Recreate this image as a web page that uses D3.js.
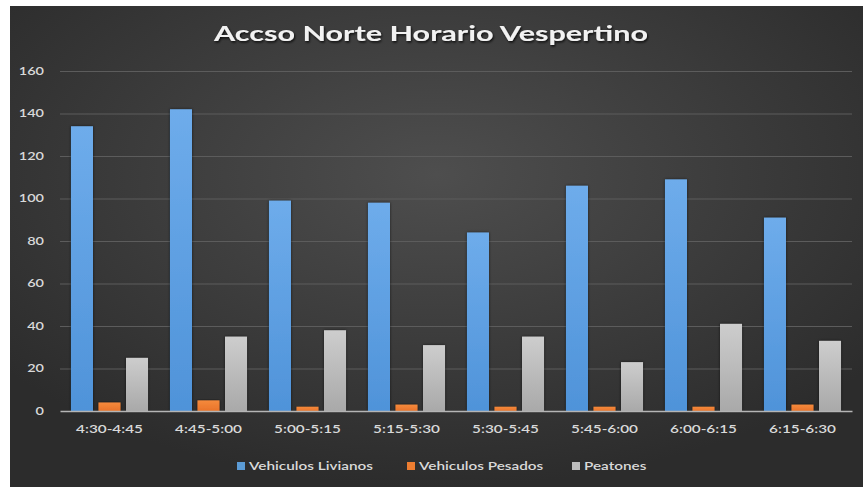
<!DOCTYPE html>
<html>
<head>
<meta charset="utf-8">
<script src="https://cdn.jsdelivr.net/npm/d3@7"></script>
<style>
  html, body { margin: 0; padding: 0; background: #ffffff; }
  svg { display: block; }
  text { font-family: Lato, "Open Sans", sans-serif; }
</style>
</head>
<body>
<div id="chart"></div>
<script>
const title = "Accso Norte Horario Vespertino";
const categories = ["4:30-4:45", "4:45-5:00", "5:00-5:15", "5:15-5:30", "5:30-5:45", "5:45-6:00", "6:00-6:15", "6:15-6:30"];
const seriesNames = ["Vehiculos Livianos", "Vehiculos Pesados", "Peatones"];
const livianos = [134, 142, 99, 98, 84, 106, 109, 91];
const pesados = [4, 5, 2, 3, 2, 2, 2, 3];
const peatones = [25, 35, 38, 31, 35, 23, 41, 33];
const yTicks = [0, 20, 40, 60, 80, 100, 120, 140, 160];
const seriesColors = ["#5b9bd5", "#ed7d31", "#bdbdbd"];

const seriesValues = [livianos, pesados, peatones];
const data = categories.map((c, i) => ({
  cat: c,
  values: seriesNames.map((s, j) => ({ key: s, idx: j, value: seriesValues[j][i] }))
}));

const W = 863, H = 487;
const stretchY = 1.38;
const stretch = 1.46;
const svg = d3.select("#chart").append("svg").attr("width", W).attr("height", H);
const defs = svg.append("defs");

const bg = defs.append("radialGradient").attr("id", "bg")
  .attr("cx", "50%").attr("cy", "35%").attr("r", "65%");
bg.append("stop").attr("offset", "0%").attr("stop-color", "#4e4e4e");
bg.append("stop").attr("offset", "100%").attr("stop-color", "#2c2c2c");

const grads = [["#6eaceb", "#4f93d9"], ["#f58a3c", "#e9732a"], ["#cdcdcd", "#a9a9a9"]];
grads.forEach((g, i) => {
  const lg = defs.append("linearGradient").attr("id", "bar" + i)
    .attr("x1", "0").attr("y1", "0").attr("x2", "0").attr("y2", "1");
  lg.append("stop").attr("offset", "0%").attr("stop-color", g[0]);
  lg.append("stop").attr("offset", "100%").attr("stop-color", g[1]);
});
const sh = defs.append("filter").attr("id", "shadow").attr("x", "-30%").attr("y", "-10%").attr("width", "160%").attr("height", "120%");
sh.append("feDropShadow").attr("dx", 0).attr("dy", 0).attr("stdDeviation", 1.5)
  .attr("flood-color", "#000").attr("flood-opacity", 0.6);

const tsh = defs.append("filter").attr("id", "tshadow").attr("x", "-10%").attr("y", "-30%").attr("width", "120%").attr("height", "160%");
tsh.append("feDropShadow").attr("dx", 1).attr("dy", 1.5).attr("stdDeviation", 1.2)
  .attr("flood-color", "#000").attr("flood-opacity", 0.8);

// Chart area background
svg.append("rect").attr("x", 10).attr("y", 6).attr("width", W - 10).attr("height", H - 6)
  .attr("fill", "url(#bg)");

const plot = { left: 60, right: 852, top: 71, bottom: 411 };

const x0 = d3.scaleBand().domain(categories).range([plot.left, plot.right])
  .paddingInner(0.222).paddingOuter(0.111);
const x1 = d3.scaleBand().domain(seriesNames).range([0, x0.bandwidth()]).paddingInner(0.2);
const y = d3.scaleLinear().domain([0, 160]).range([plot.bottom, plot.top]);

// Gridlines
svg.append("g").selectAll("line").data(yTicks.filter(t => t > 0)).join("line")
  .attr("x1", plot.left).attr("x2", plot.right)
  .attr("y1", d => y(d) + 0.5).attr("y2", d => y(d) + 0.5)
  .attr("stroke", "#5c5c5c").attr("stroke-width", 1.2);

// Y axis labels
const yAxis = d3.axisLeft(y).tickValues(yTicks).tickSize(0).tickPadding(0);
const yg = svg.append("g").attr("transform", `translate(${plot.left},0)`).call(yAxis);
yg.select(".domain").remove();
yg.selectAll("text")
  .attr("x", -16 / stretchY)
  .attr("transform", `scale(${stretchY},1)`)
  .attr("fill", "#d9d9d9").attr("font-size", "10.5px").attr("font-weight", "600");

// Bars
const groups = svg.append("g").selectAll("g").data(data).join("g")
  .attr("transform", d => `translate(${x0(d.cat)},0)`);
groups.selectAll("rect").data(d => d.values).join("rect")
  .attr("x", d => x1(d.key))
  .attr("width", x1.bandwidth())
  .attr("y", d => y(d.value))
  .attr("height", d => y(0) - y(d.value))
  .attr("fill", d => `url(#bar${d.idx})`)
  .attr("filter", "url(#shadow)");

// X axis
const xAxis = d3.axisBottom(x0).tickSize(0).tickPadding(0);
const xg = svg.append("g").attr("transform", `translate(0,${plot.bottom})`).call(xAxis);
xg.select(".domain").attr("stroke", "#b5b5b5").attr("stroke-width", 1.3);
xg.selectAll("text")
  .attr("y", 15)
  .attr("transform", `scale(${stretch},1)`)
  .attr("x", 0)
  .attr("fill", "#d9d9d9").attr("font-size", "10.5px").attr("font-weight", "600");
xg.selectAll(".tick").each(function () {
  const t = d3.select(this);
  const cx = x0(t.datum()) + x0.bandwidth() / 2;
  t.attr("transform", `translate(${cx},0)`);
});

// Title
svg.append("text")
  .attr("x", 431).attr("y", 41)
  .attr("text-anchor", "middle")
  .attr("font-size", "20px").attr("font-weight", "bold")
  .attr("fill", "#f2f2f2")
  .attr("textLength", 434).attr("lengthAdjust", "spacingAndGlyphs")
  .attr("filter", "url(#tshadow)")
  .text(title);

// Legend
const legendX = [237, 407, 572];
const legend = svg.append("g").selectAll("g").data(seriesNames).join("g")
  .attr("transform", (d, i) => `translate(${legendX[i]},466)`);
legend.append("rect").attr("x", 0).attr("y", -4).attr("width", 8).attr("height", 8)
  .attr("fill", (d, i) => seriesColors[i]);
legend.append("text")
  .attr("x", 12 / stretch).attr("y", 0).attr("dy", "0.35em")
  .attr("transform", `scale(${stretch},1)`)
  .attr("fill", "#d9d9d9").attr("font-size", "10.5px").attr("font-weight", "600")
  .text(d => d);
</script>
</body>
</html>
